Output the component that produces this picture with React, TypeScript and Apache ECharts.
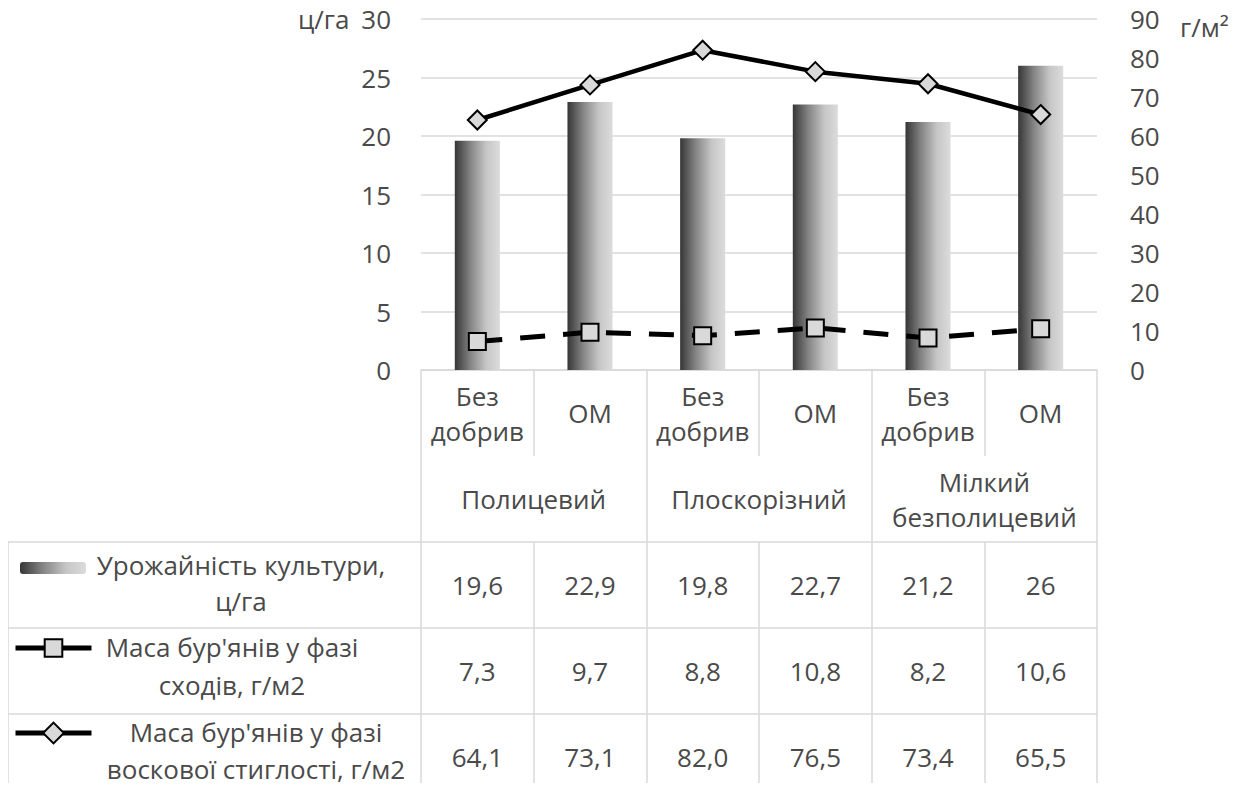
import React, { useEffect, useRef } from "react";
import * as echarts from "echarts";

const categories = ["Без\nдобрив", "ОМ", "Без\nдобрив", "ОМ", "Без\nдобрив", "ОМ"];
const groups = ["Полицевий", "Плоскорізний", "Мілкий\nбезполицевий"];
const yieldValues = [19.6, 22.9, 19.8, 22.7, 21.2, 26];
const sproutWeeds = [7.3, 9.7, 8.8, 10.8, 8.2, 10.6];
const waxWeeds = [64.1, 73.1, 82.0, 76.5, 73.4, 65.5];
const seriesNames = [
  "Урожайність культури, ц/га",
  "Маса бур'янів у фазі сходів, г/м2",
  "Маса бур'янів у фазі воскової стиглості, г/м2",
];
const legendLabels = [
  "Урожайність культури,\nц/га",
  "Маса бур'янів у фазі\nсходів, г/м2",
  "Маса бур'янів у фазі\nвоскової стиглості, г/м2",
];
const leftAxis = { min: 0, max: 30, interval: 5, name: "ц/га" };
const rightAxis = { min: 0, max: 90, interval: 10, name: "г/м²" };

const FONT = "'Open Sans', 'Noto Sans', sans-serif";
const TXT = "#4a4a4a";
const LINE = "#d9d9d9";

const comma = (s: string) => s.replace(".", ",");

export default function App() {
  const ref = useRef<HTMLDivElement>(null);
  useEffect(() => {
    if (!ref.current) return;
    const chart = echarts.init(ref.current, undefined, { renderer: "svg" });
    const gridLeft = 421;
    const gridRight = 152;
    const gridTop = 19;
    const gridBottom = 421; // 0 line at y=370
    const rowH = 86;

    const tableAxis = (data: string[], offset: number, showLine = true) => ({
      type: "category",
      position: "bottom",
      offset,
      data,
      axisLine: {
        show: true,
        onZero: false,
        lineStyle: { color: showLine ? LINE : "rgba(0,0,0,0)", width: 1.5 },
      },
      axisTick: { show: true, length: rowH, interval: 0, lineStyle: { color: LINE, width: 1.5 } },
      axisLabel: {
        interval: 0,
        margin: rowH / 2,
        verticalAlign: "middle",
        color: TXT,
        fontFamily: FONT,
        fontSize: 26,
        lineHeight: 35,
      },
      splitLine: { show: false },
    });

    const gradient = new echarts.graphic.LinearGradient(0, 0, 1, 0, [
      { offset: 0, color: "#363636" },
      { offset: 0.35, color: "#858585" },
      { offset: 0.7, color: "#c6c6c6" },
      { offset: 1, color: "#dcdcdc" },
    ]);

    const tableTop = 370 + 2 * rowH;
    const legendCommon = {
      left: 13,
      padding: 0,
      orient: "vertical",
      formatter: () => "",
      textStyle: { fontSize: 1 },
      selectedMode: false,
      itemGap: 0,
    };

    chart.setOption({
      animation: false,
      grid: { left: gridLeft, right: gridRight, top: gridTop, bottom: gridBottom },
      legend: [
        { ...legendCommon, left: 20, data: [seriesNames[0]], top: tableTop + 20, itemWidth: 66, itemHeight: 12 },
        {
          ...legendCommon,
          data: [seriesNames[1]],
          top: tableTop + rowH + 9,
          itemWidth: 76,
          itemHeight: 22,
          lineStyle: { type: "solid", width: 5 },
        },
        {
          ...legendCommon,
          data: [seriesNames[2]],
          top: tableTop + 2 * rowH + 6,
          itemWidth: 76,
          itemHeight: 26,
          lineStyle: { type: "solid", width: 5 },
        },
      ],
      xAxis: [
        tableAxis(categories, 0),
        tableAxis(groups, rowH, false),
        tableAxis(yieldValues.map((v) => comma(String(v))), 2 * rowH),
        tableAxis(sproutWeeds.map((v) => comma(String(v))), 3 * rowH),
        tableAxis(waxWeeds.map((v) => comma(v.toFixed(1))), 4 * rowH),
      ],
      yAxis: [
        {
          type: "value",
          min: leftAxis.min,
          max: leftAxis.max,
          interval: leftAxis.interval,
          axisLine: { show: false },
          axisTick: { show: false },
          splitLine: { lineStyle: { color: LINE, width: 1.5 } },
          axisLabel: { color: TXT, fontFamily: FONT, fontSize: 26, margin: 30 },
        },
        {
          type: "value",
          position: "right",
          min: rightAxis.min,
          max: rightAxis.max,
          interval: rightAxis.interval,
          axisLine: { show: false },
          axisTick: { show: false },
          splitLine: { show: false },
          axisLabel: { color: TXT, fontFamily: FONT, fontSize: 26, margin: 33 },
        },
      ],
      series: [
        {
          name: seriesNames[0],
          type: "bar",
          data: yieldValues,
          barWidth: "40%",
          itemStyle: { color: gradient },
        },
        {
          name: seriesNames[1],
          type: "line",
          yAxisIndex: 1,
          data: sproutWeeds,
          symbol: "rect",
          symbolSize: 17,
          lineStyle: { color: "#000", width: 5, type: [25, 18] },
          itemStyle: { color: "#d9d9d9", borderColor: "#000", borderWidth: 2 },
        },
        {
          name: seriesNames[2],
          type: "line",
          yAxisIndex: 1,
          data: waxWeeds,
          symbol: "diamond",
          symbolSize: 19,
          lineStyle: { color: "#000", width: 4.5 },
          itemStyle: { color: "#d9d9d9", borderColor: "#000", borderWidth: 2 },
        },
      ],
      graphic: [
        { type: "text", left: 298, top: 6, style: { text: leftAxis.name, fill: TXT, font: `26px ${FONT}` } },
        { type: "text", left: 1180, top: 14, style: { text: rightAxis.name, fill: TXT, font: `26px ${FONT}` } },
        // left part of data table borders
        ...[0, 1, 2, 3].map((i) => ({
          type: "line",
          shape: { x1: 8, y1: tableTop + i * rowH, x2: gridLeft, y2: tableTop + i * rowH },
          style: { stroke: LINE, lineWidth: 1.5 },
        })),
        {
          type: "line",
          shape: { x1: 8, y1: tableTop, x2: 8, y2: tableTop + 3 * rowH },
          style: { stroke: LINE, lineWidth: 1.5 },
        },
        {
          type: "text",
          x: 241,
          y: tableTop + rowH / 2 - 2,
          style: { text: legendLabels[0], fill: TXT, font: `26px ${FONT}`, align: "center", verticalAlign: "middle", lineHeight: 36 },
        },
        {
          type: "text",
          x: 232,
          y: tableTop + rowH + rowH / 2 - 5,
          style: { text: legendLabels[1], fill: TXT, font: `26px ${FONT}`, align: "center", verticalAlign: "middle", lineHeight: 38 },
        },
        {
          type: "text",
          x: 256,
          y: tableTop + 2 * rowH + rowH / 2 - 7,
          style: { text: legendLabels[2], fill: TXT, font: `26px ${FONT}`, align: "center", verticalAlign: "middle", lineHeight: 37 },
        },
      ],
    });
    return () => chart.dispose();
  }, []);
  return <div ref={ref} style={{ width: 1249, height: 791, margin: -8 }} />;
}
